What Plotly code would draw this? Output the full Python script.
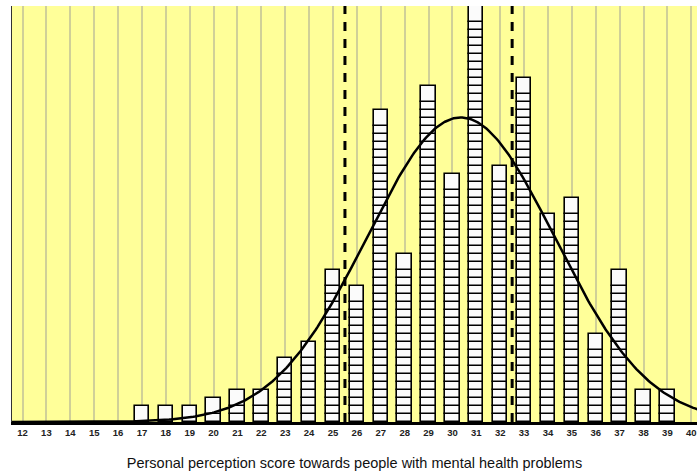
import numpy as np
import plotly.graph_objects as go

# ---- data ----
scores = list(range(17, 40))
counts = [2, 2, 2, 3, 4, 4, 8, 10, 19, 17, 39, 21, 42, 31, 52, 32, 43, 26, 28, 11, 19, 4, 4]
tick_vals = list(range(12, 41))
tick_text = [str(v) for v in tick_vals]
cutoffs = [25.5, 32.5]
fit_mean = 30.35
fit_sd = 3.93
fit_n = 375
x_title = "Personal perception score towards people with mental health problems"

# ---- build stacked unit cells (top cell spans two units, as drawn) ----
cx, cy, cb = [], [], []
for s, n in zip(scores, counts):
    b = 0
    while b < n:
        h = 2 if n - b <= 2 else 1
        cx.append(s); cy.append(min(h, n - b)); cb.append(b)
        b += h

fig = go.Figure()
fig.add_trace(go.Bar(
    x=cx, y=cy, base=cb, width=0.6,
    marker=dict(color="#fbfbfb", line=dict(color="black", width=1.6)),
    hoverinfo="skip", showlegend=False,
))

xs = np.linspace(11.5, 40.3, 400)
ys = fit_n / (fit_sd * np.sqrt(2 * np.pi)) * np.exp(-0.5 * ((xs - fit_mean) / fit_sd) ** 2)
fig.add_trace(go.Scatter(x=xs, y=ys, mode="lines",
                         line=dict(color="black", width=2.5),
                         hoverinfo="skip", showlegend=False))

for c in cutoffs:
    fig.add_shape(type="line", x0=c, x1=c, y0=0, y1=1, xref="x", yref="paper",
                  line=dict(color="black", width=3, dash="9px,8px"), layer="above")

fig.update_layout(
    width=697, height=473,
    margin=dict(l=12, r=0, t=6, b=51, autoexpand=False),
    paper_bgcolor="white", plot_bgcolor="#ffff99",
    barmode="overlay", bargap=0,
    font=dict(family="Liberation Sans, Arial, sans-serif", color="#111"),
)
fig.update_xaxes(
    range=[11.56, 40.24], tickmode="array", tickvals=tick_vals, ticktext=tick_text,
    tickfont=dict(size=9.5, family="Liberation Sans, Arial", color="#222", weight="bold"),
    ticklabeloverflow="allow",
    showgrid=True, gridcolor="rgba(150,150,150,0.45)", gridwidth=1.5,
    showline=True, linecolor="black", linewidth=2.5, ticks="", zeroline=False,
    title=dict(text=x_title, font=dict(size=14.5, color="#111"), standoff=21),
)
fig.update_yaxes(
    range=[0, 52], showticklabels=False, showgrid=False, zeroline=False,
    showline=True, linecolor="#333", linewidth=1, ticks="",
)

fig.write_html("out.html", config={"displayModeBar": False},
               post_script="document.body.style.margin='0';document.body.style.overflow='hidden';")
